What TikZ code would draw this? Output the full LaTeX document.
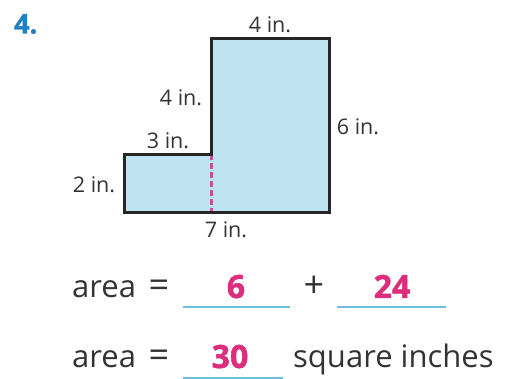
\documentclass[tikz,border=0pt]{standalone}
\usepackage{fontspec}
\setmainfont{Open Sans}
\definecolor{fillblue}{HTML}{BEE4F1}
\definecolor{pinkans}{HTML}{DD2E7E}
\definecolor{numblue}{HTML}{1F80C4}
\definecolor{lineblue}{HTML}{6CC0DD}
\definecolor{gray80}{HTML}{333333}
\definecolor{dashpurple}{HTML}{CC4C9E}
\tikzset{
  lbl/.style={inner sep=0pt, font=\fontsize{21.5}{22}\selectfont, text=gray80},
  eq/.style={inner sep=0pt, anchor=base west, font=\fontsize{31}{32}\selectfont, text=gray80},
  sym/.style={inner sep=0pt, anchor=base, font=\fontsize{36}{36}\selectfont, text=gray80},
  ans/.style={inner sep=0pt, anchor=base, font=\fontsize{32}{32}\selectfont\bfseries\addfontfeature{FakeBold=1.5}, text=pinkans},
  blank/.style={lineblue, line width=1.5pt},
}
\begin{document}
\begin{tikzpicture}[x=1pt,y=-1pt]
\useasboundingbox (0,0) rectangle (512,379);
% shape
\coordinate (A) at (124,154.3);
\coordinate (B) at (211.7,154.3);
\coordinate (C) at (211.7,38.3);
\coordinate (D) at (329,38.3);
\coordinate (E) at (329,212.7);
\coordinate (F) at (124,212.7);
\coordinate (G) at (211.7,212.7);
\fill[fillblue] (A) -- (B) -- (C) -- (D) -- (E) -- (F) -- cycle;
\draw[dashpurple, line width=2.6pt, dash pattern=on 6pt off 3pt] (B) -- (G);
\draw[black!85, line width=3pt, line join=miter] (A) -- (B) -- (C) -- (D) -- (E) -- (F) -- cycle;
% number
\node[inner sep=0pt, anchor=west, font=\fontsize{27}{27}\selectfont\bfseries\addfontfeature{FakeBold=1.5}, text=numblue] (num) at (14,24) {4.};
% labels
\node[lbl] (top) at (270,25) {4 in.};
\node[lbl] (lft) at (181,98) {4 in.};
\node[lbl] (thr) at (168,141) {3 in.};
\node[lbl] (two) at (94,185) {2 in.};
\node[lbl] (six) at (358,127) {6 in.};
\node[lbl] (sev) at (226,230) {7 in.};
% equation line 1
\node[eq] (a1) at (72,298) {area};
\node[sym] (e1) at (159,298) {=};
\node[ans] (n6) at (236,298) {6};
\node[sym] (plus) at (314,298) {+};
\node[ans] (n24) at (392,298) {24};
\coordinate (u1a) at (183,307); \coordinate (u1b) at (290,307);
\coordinate (u2a) at (337,307); \coordinate (u2b) at (446,307);
\draw[blank] (u1a) -- (u1b);
\draw[blank] (u2a) -- (u2b);
% equation line 2
\node[eq] (a2) at (72,368) {area};
\node[sym] (e2) at (159,368) {=};
\node[ans] (n30) at (230,368) {30};
\coordinate (u3a) at (183,378); \coordinate (u3b) at (283,378);
\draw[blank] (u3a) -- (u3b);
\node[eq] (sq) at (293,368) {square inches};
\end{tikzpicture}
\end{document}
